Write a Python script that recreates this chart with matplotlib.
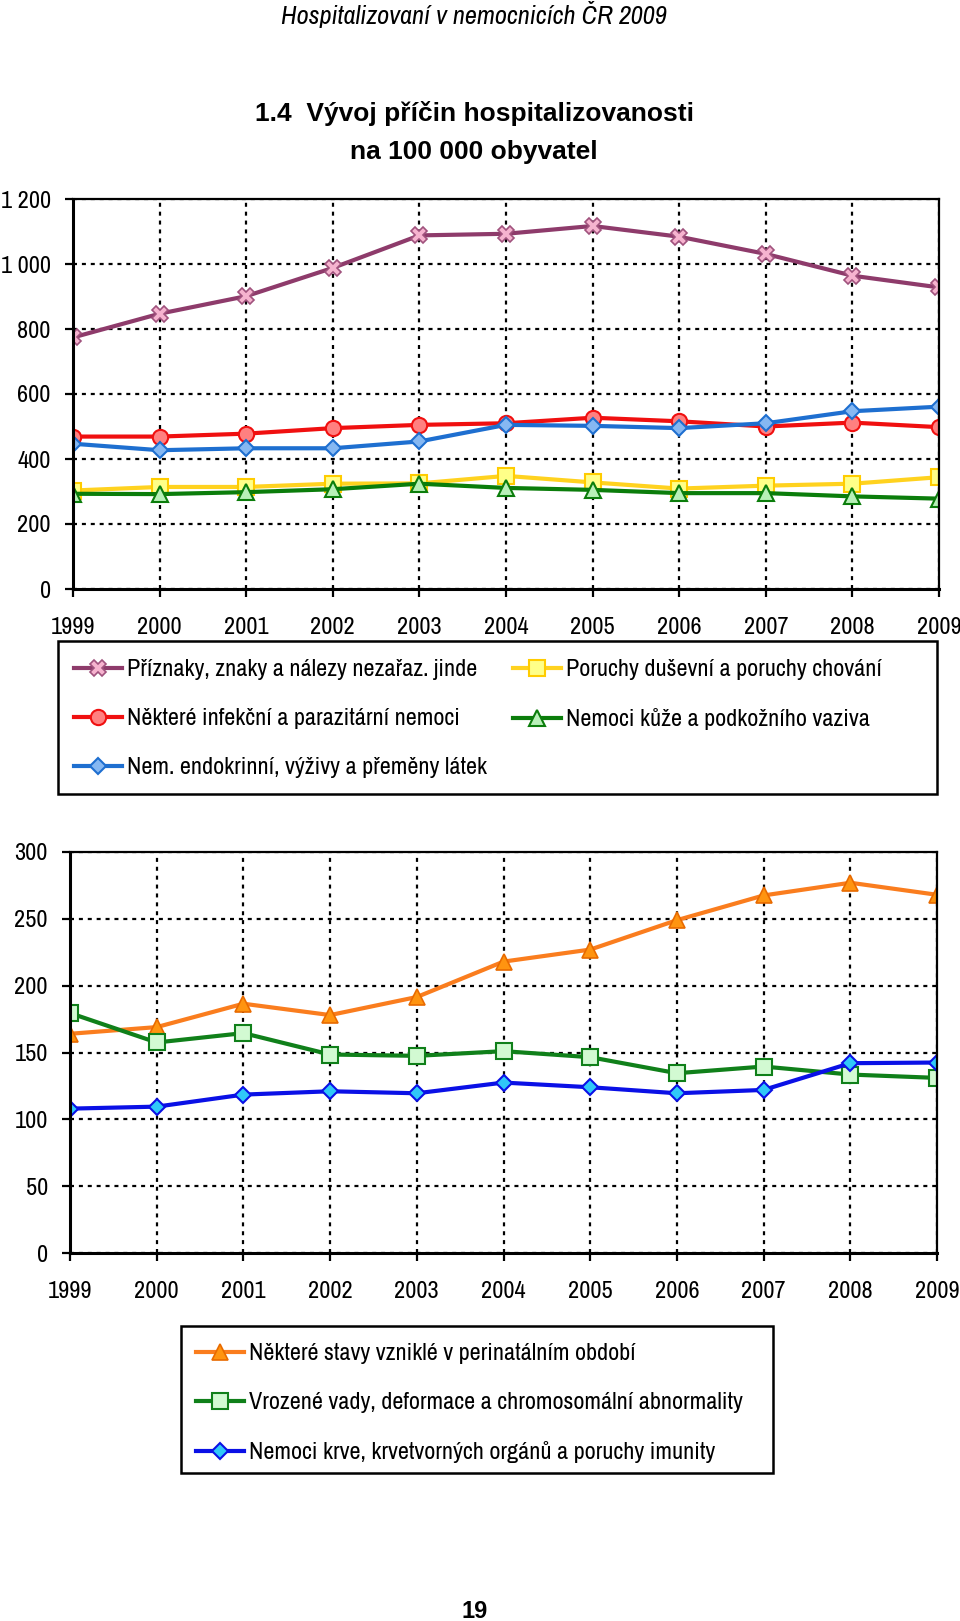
import matplotlib
matplotlib.use('Agg')
import matplotlib.pyplot as plt
from matplotlib import font_manager
from matplotlib.font_manager import FontProperties
from matplotlib.ticker import FuncFormatter
from matplotlib.patches import Rectangle


def pick_font(cands, weight, style='normal'):
    # first installed font from the list with the wanted weight/style, as a file path
    for c in cands:
        for f in font_manager.fontManager.ttflist:
            if f.name == c and f.style == style and abs(int(f.weight) - weight) <= 50:
                return f.fname
    return None


narrow = ['Liberation Sans Narrow', 'Arial Narrow', 'Archivo Narrow', 'PT Sans Narrow',
          'Roboto Condensed', 'Barlow Semi Condensed']
reg_file = pick_font(narrow, 400)
ital_file = pick_font(narrow, 400, 'italic')
bold_file = pick_font(['Liberation Sans', 'Arial', 'DejaVu Sans'], 700)

if reg_file:
    reg_name = FontProperties(fname=reg_file).get_name()
    plt.rcParams['font.family'] = [reg_name, 'DejaVu Sans']


def fp(path, size):
    if path:
        return FontProperties(fname=path, size=size)
    return FontProperties(family='DejaVu Sans', size=size)


years = [1999, 2000, 2001, 2002, 2003, 2004, 2005, 2006, 2007, 2008, 2009]

# horni graf
priznaky = [774, 847, 901, 988, 1088, 1093, 1117, 1084, 1031, 964, 928]
infekcni = [469, 469, 478, 495, 505, 510, 527, 516, 500, 512, 498]
endokrinni = [447, 427, 433, 433, 454, 505, 502, 495, 510, 547, 561]
dusevni = [303, 314, 314, 324, 325, 348, 328, 309, 318, 324, 344]
kuze = [293, 292, 298, 307, 324, 311, 305, 295, 295, 285, 278]
top_labels = ['Příznaky, znaky a nálezy nezařaz. jinde',
              'Některé infekční a parazitární nemoci',
              'Nem. endokrinní, výživy a přeměny látek',
              'Poruchy duševní a poruchy chování',
              'Nemoci kůže a podkožního vaziva']

# dolni graf
perinatal = [164, 169, 186.5, 178, 191.5, 218, 227, 249, 267.5, 277, 268]
vrozene = [179.5, 157.5, 164.5, 148.5, 147.5, 151, 146.5, 134.5, 139.5, 133.5, 131]
krev = [108, 109.5, 118.5, 121, 119.5, 127.5, 124, 119.5, 122, 142, 142.5]
bottom_labels = ['Některé stavy vzniklé v perinatálním období',
                 'Vrozené vady, deformace a chromosomální abnormality',
                 'Nemoci krve, krvetvorných orgánů a poruchy imunity']

W, H = 960, 1621
fig = plt.figure(figsize=(W / 100, H / 100), dpi=100)
fig.patch.set_facecolor('white')


def fx(px):
    return px / W


def fy(py):
    return 1 - py / H


def style_axes(ax, ymax, ystep):
    ax.set_xlim(1999, 2009)
    ax.set_ylim(0, ymax)
    ax.set_xticks(years)
    ax.set_yticks(range(0, ymax + 1, ystep))
    ax.yaxis.set_major_formatter(FuncFormatter(lambda v, p: f'{v:,.0f}'.replace(',', ' ')))
    ax.grid(True, color='black', linestyle=(0, (1.8, 2.2)), linewidth=1.6)
    ax.set_axisbelow(True)
    for s in ax.spines.values():
        s.set_color('black')
        s.set_linewidth(1.6)
    ax.spines['left'].set_linewidth(2.2)
    ax.spines['bottom'].set_linewidth(2.2)
    ax.tick_params(axis='both', direction='out', length=6, width=1.6, labelsize=17.5, colors='black')
    ax.tick_params(axis='y', pad=10)
    ax.tick_params(axis='x', pad=14.5)


LEG = 17.4

# ---------------- top chart ----------------
ax1 = fig.add_axes([fx(73), fy(589), fx(939 - 73), (589 - 199) / H])
l1 = ax1.plot(years, priznaky, color='#8E3B6B', lw=3, marker='X', ms=12,
              mfc='#F6B3CF', mec='#A0527D', mew=1.2, label=top_labels[0])
l2 = ax1.plot(years, infekcni, color='#F01010', lw=3, marker='o', ms=11,
              mfc='#FF8080', mec='#F01010', mew=1.5, label=top_labels[1])
l3 = ax1.plot(years, endokrinni, color='#1E6FD0', lw=3, marker='D', ms=8.5,
              mfc='#86B8F2', mec='#1E6FD0', mew=1.5, label=top_labels[2])
l4 = ax1.plot(years, dusevni, color='#FFD21F', lw=3, marker='s', ms=11,
              mfc='#FFFF88', mec='#FFCC00', mew=1.5, label=top_labels[3])
l5 = ax1.plot(years, kuze, color='#0B7D0B', lw=3, marker='^', ms=12,
              mfc='#B8F0B8', mec='#0B7D0B', mew=1.5, label=top_labels[4])
style_axes(ax1, 1200, 200)

# two columns placed separately so they sit where the reference has them
leg_kw = dict(loc='upper left', frameon=False, fontsize=LEG, handlelength=2.0,
              handletextpad=0.2, labelspacing=1.16, borderpad=0, borderaxespad=0)
leg1a = fig.legend(handles=l1 + l2 + l3, bbox_to_anchor=(fx(74), fy(659)), **leg_kw)
leg1b = fig.legend(handles=l4 + l5, bbox_to_anchor=(fx(513), fy(659)), **leg_kw)
fig.patches.append(Rectangle((fx(58), fy(794)), fx(937 - 58), (794 - 641) / H,
                             transform=fig.transFigure, fill=False,
                             edgecolor='black', linewidth=1.8))

# ---------------- bottom chart ----------------
ax2 = fig.add_axes([fx(70), fy(1253), fx(937 - 70), (1253 - 852) / H])
m1 = ax2.plot(years, perinatal, color='#FA7D1E', lw=3, marker='^', ms=12,
              mfc='#FF9410', mec='#E86A00', mew=1.2, label=bottom_labels[0])
m2 = ax2.plot(years, vrozene, color='#10801A', lw=3, marker='s', ms=11,
              mfc='#D2FAD2', mec='#10801A', mew=1.5, label=bottom_labels[1])
m3 = ax2.plot(years, krev, color='#0A10E6', lw=3, marker='D', ms=8.5,
              mfc='#30C8F8', mec='#0A10E6', mew=1.5, label=bottom_labels[2])
style_axes(ax2, 300, 50)

leg2 = fig.legend(handles=m1 + m2 + m3, bbox_to_anchor=(fx(196), fy(1343)), **leg_kw)
fig.patches.append(Rectangle((fx(181), fy(1473)), fx(773 - 181), (1473 - 1326) / H,
                             transform=fig.transFigure, fill=False,
                             edgecolor='black', linewidth=1.8))

# ---------------- texts ----------------
fig.text(0.494, fy(15), 'Hospitalizovaní v nemocnicích ČR 2009', ha='center', va='center',
         fontproperties=fp(ital_file, 19))
fig.text(0.494, fy(113), '1.4  Vývoj příčin hospitalizovanosti', ha='center', va='center',
         fontproperties=fp(bold_file, 19))
fig.text(0.494, fy(152), 'na 100 000 obyvatel', ha='center', va='center',
         fontproperties=fp(bold_file, 19))
fig.text(0.494, fy(1611), '19', ha='center', va='center', fontproperties=fp(bold_file, 17))

fig.savefig('out.png', dpi=100, facecolor='white')
